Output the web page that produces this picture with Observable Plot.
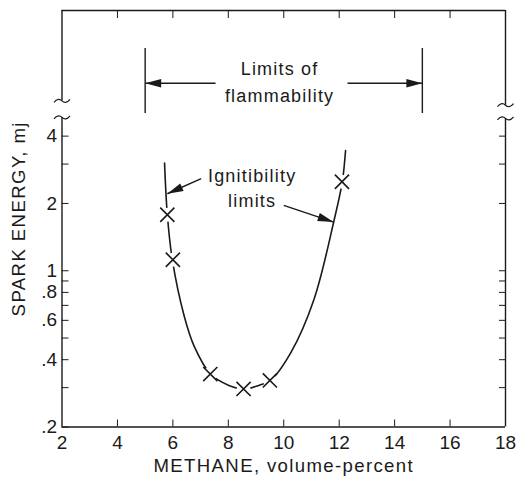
<!DOCTYPE html>
<html>
<head>
<meta charset="utf-8">
<script src="https://cdn.jsdelivr.net/npm/d3@7"></script>
<script src="https://cdn.jsdelivr.net/npm/@observablehq/plot@0.6"></script>
<style>
  html, body { margin: 0; padding: 0; background: #fff; }
</style>
</head>
<body>
<div id="chart"></div>
<script>
// ---- data ----
const xTicks = [2, 4, 6, 8, 10, 12, 14, 16, 18];
const xInnerTicks = [4, 6, 8, 10, 12, 14, 16];
const yTicks = [0.2, 0.3, 0.4, 0.5, 0.6, 0.7, 0.8, 0.9, 1, 2, 3, 4];
const yLabels = [0.2, 0.4, 0.6, 0.8, 1, 2, 4];

// measured points (X markers)
const methane = [5.8, 6.0, 7.35, 8.55, 9.5, 12.1];
const energy  = [1.78, 1.12, 0.345, 0.296, 0.323, 2.5];

// smooth fitted curve through the ignitibility limits
const curveMethane = [5.70, 5.80, 5.98, 6.41, 6.77, 7.36, 8.02, 8.56, 9.10, 9.52, 10.25, 11.09, 11.81, 12.11, 12.23];
const curveEnergy  = [3.03, 1.78, 1.12, 0.626, 0.459, 0.345, 0.307, 0.296, 0.307, 0.323, 0.429, 0.744, 1.67, 2.49, 3.45];

// flammability limits of methane
const flammability = [5, 15];

const xLabel = "METHANE, volume-percent";
const yLabel = "SPARK ENERGY, mj";
const limitsText = "Limits of\nflammability";
const ignText = "Ignitibility\nlimits";

const yTop = 14.59;
const font = "'Liberation Sans', Arial, Helvetica, sans-serif";
const ink = "#1a1a1a";

const pts = methane.map((m, i) => ({x: m, y: energy[i]}));
const curve = curveMethane.map((m, i) => ({x: m, y: curveEnergy[i]}));

// filled arrowhead symbol pointing to +x, tip at origin
const arrowHead = {
  draw(ctx) {
    ctx.moveTo(0, 0);
    ctx.lineTo(-16, -4.2);
    ctx.lineTo(-16, 4.2);
    ctx.closePath();
  }
};
// axis-break squiggle
const breakMark = {
  draw(ctx) {
    ctx.moveTo(-8, 1.5);
    ctx.bezierCurveTo(-5, -2.5, -2, -2, 0, 0);
    ctx.bezierCurveTo(2, 2, 5, 2.5, 8, -1.5);
  }
};

const frameSegs = [
  {x: 2, y1: 0.2, y2: 4.85}, {x: 2, y1: 5.75, y2: yTop},
  {x: 18, y1: 0.2, y2: 4.8}, {x: 18, y1: 5.5, y2: yTop}
];
const breaks = [
  {x: 2, y: 5.75}, {x: 2, y: 4.85}, {x: 18, y: 5.5}, {x: 18, y: 4.8}
];

const limitArrows = [
  {x1: 7.54, y1: 6.9, x2: flammability[0], y2: 6.9, rot: 180},
  {x1: 12.3, y1: 6.9, x2: flammability[1], y2: 6.9, rot: 0}
];
const ignArrows = [
  {x1: 7.02, y1: 2.58, x2: 5.80, y2: 2.21, rot: 156},
  {x1: 10.0, y1: 1.96, x2: 11.8, y2: 1.65, rot: 18.5}
];
const arrows = limitArrows.concat(ignArrows);

const fmt = d => d < 1 ? String(d).replace(/^0/, "") : String(d);

const chart = Plot.plot({
  width: 527,
  height: 479,
  marginLeft: 61.5,
  marginRight: 22,
  marginTop: 10,
  marginBottom: 52.5,
  style: {fontFamily: font, fontSize: "19px", color: ink, background: "#fff"},
  x: {domain: [2, 18], axis: null},
  y: {type: "log", domain: [0.2, yTop], axis: null},
  marks: [
    // frame
    Plot.ruleY([0.2, yTop], {stroke: ink, strokeWidth: 1.4}),
    Plot.ruleX(frameSegs, {x: "x", y1: "y1", y2: "y2", stroke: ink, strokeWidth: 1.4}),
    Plot.dot(breaks, {x: "x", y: "y", r: 5, symbol: breakMark, fill: "none", stroke: ink, strokeWidth: 1.2}),

    // tick marks (inward)
    Plot.axisX(xInnerTicks, {anchor: "bottom", tickSize: -7, tickFormat: () => "", stroke: ink, label: null}),
    Plot.axisX(xInnerTicks, {anchor: "top", tickSize: -7, tickFormat: () => "", stroke: ink, label: null}),
    Plot.axisY(yTicks, {anchor: "left", tickSize: -7, tickFormat: () => "", stroke: ink, label: null}),
    Plot.axisY(yTicks.filter(d => d > 0.2), {anchor: "right", tickSize: -7, tickFormat: () => "", stroke: ink, label: null}),

    // tick labels
    Plot.text(xTicks, {x: d => d, frameAnchor: "bottom", lineAnchor: "top", dy: 8.5, text: d => String(d), fontSize: 19, fill: ink}),
    Plot.text(yLabels, {x: 2, y: d => d, textAnchor: "end", dx: -5, text: fmt, fontSize: 19, fill: ink}),

    // axis titles
    Plot.text([xLabel], {frameAnchor: "bottom", lineAnchor: "top", textAnchor: "middle", dy: 31.8, text: d => d, fontSize: 18.6, fill: ink}),
    Plot.text([yLabel], {frameAnchor: "left", rotate: -90, lineAnchor: "top", textAnchor: "middle", dx: -49.8, text: d => d, fontSize: 18.6, fill: ink}),

    // ignitibility curve
    Plot.line(curve, {x: "x", y: "y", curve: "catmull-rom", stroke: ink, strokeWidth: 1.6}),
    Plot.dot(pts, {x: "x", y: "y", r: 7, fill: "#fff", stroke: null, symbol: "circle"}),
    Plot.dot(pts, {x: "x", y: "y", r: 6.5, symbol: "times", stroke: ink, strokeWidth: 1.6}),

    // limits of flammability annotation
    Plot.ruleX(flammability, {x: d => d, y1: 5.05, y2: 9.86, stroke: ink, strokeWidth: 1.4}),
    Plot.link(arrows, {x1: "x1", y1: "y1", x2: "x2", y2: "y2", stroke: ink, strokeWidth: 1.4}),
    Plot.dot(arrows, {x: "x2", y: "y2", r: 5, symbol: arrowHead, rotate: "rot", fill: ink, stroke: null}),
    Plot.text([limitsText], {x: 9.85, y: 7.13, text: d => d, fontSize: 18, lineHeight: 1.48, fill: ink}),
    Plot.text([ignText], {x: 8.86, y: 2.38, text: d => d, fontSize: 18, lineHeight: 1.4, fill: ink})
  ]
});

// looser tracking, as in the reference lettering
d3.select(chart).selectAll("text").each(function() {
  const t = this.textContent;
  if (t === xLabel) this.style.letterSpacing = "1.35px";
  else if (t === yLabel) this.style.letterSpacing = "1.4px";
  else if (t.startsWith("Limits") || t.startsWith("Ignitibility")) this.style.letterSpacing = "1.2px";
});

document.getElementById("chart").appendChild(chart);
</script>
</body>
</html>
